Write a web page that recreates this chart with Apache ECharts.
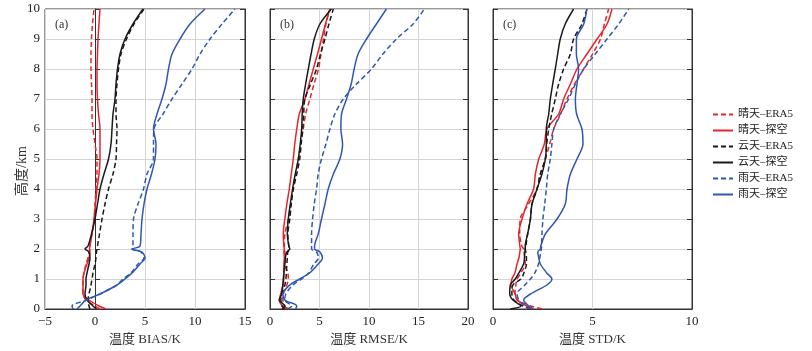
<!DOCTYPE html>
<html>
	<head>
		<meta charset="utf-8">
		<title>温度廓线误差</title>
		<script src="https://cdn.jsdelivr.net/npm/echarts@6/dist/echarts.min.js"></script>
	</head>
	<body style="margin:0">
		<div id="box" style="width: 812px;height: 351px;"></div>
		<script>
			// 高度 km
			var heights = [0, 0.1, 0.3, 0.5, 0.8, 1, 1.2, 1.5, 1.7, 1.9, 2, 2.1, 2.5, 3, 3.5, 4, 4.5, 5, 5.5, 6, 6.5, 7, 7.5, 8, 8.5, 9, 9.5, 10]
			var names = ['晴天–ERA5', '晴天–探空', '云天–ERA5', '云天–探空', '雨天–ERA5', '雨天–探空']
			var colors = ['#e3262b', '#e3262b', '#1a1a1a', '#1a1a1a', '#2f57b3', '#2f57b3']
			var xNames = ['温度 BIAS/K', '温度 RMSE/K', '温度 STD/K']
			var panelLabels = ['(a)', '(b)', '(c)']
			var xMin = [-5, 0, 0]
			var xMax = [15, 20, 10]

			// (a) BIAS
			var biasClearEra = [0.5, 0.0, -0.9, -1.2, -1.2, -1.2, -1.1, -0.9, -0.7, -0.6, -0.5, -0.5, -0.3, -0.1, 0.0, 0.1, 0.2, 0.2, 0.0, -0.2, -0.3, -0.3, -0.35, -0.4, -0.4, -0.35, -0.25, -0.1]
			var biasClearObs = [1.1, 0.4, -0.6, -1.2, -1.2, -1.2, -1.1, -0.8, -0.6, -0.5, -0.55, -0.5, -0.3, -0.1, 0.05, 0.2, 0.4, 0.5, 0.5, 0.5, 0.35, 0.25, 0.2, 0.2, 0.25, 0.3, 0.4, 0.5]
			var biasCloudEra = [-0.5, -0.6, -0.7, -0.6, -0.4, -0.3, -0.2, 0.0, 0.1, 0.15, 0.2, 0.25, 0.45, 0.7, 1.0, 1.35, 1.8, 2.1, 2.15, 2.2, 2.1, 2.1, 2.2, 2.35, 2.6, 3.15, 3.9, 4.9]
			var biasCloudObs = [0.15, -0.2, -0.8, -1.0, -0.9, -0.9, -0.8, -0.6, -0.5, -0.6, -1.0, -0.7, -0.35, 0.0, 0.25, 0.5, 0.9, 1.35, 1.6, 1.7, 1.8, 2.0, 2.1, 2.25, 2.5, 3.0, 3.8, 4.8]
			var biasRainEra = [-2.2, -2.3, -0.8, 0.5, 2.2, 2.8, 3.6, 4.3, 4.9, 4.6, 3.7, 3.8, 3.8, 3.85, 4.3, 4.85, 5.2, 5.85, 5.85, 5.9, 6.8, 7.7, 8.7, 9.7, 10.5, 11.5, 12.7, 14.0]
			var biasRainObs = [-1.8, -1.5, -0.9, 0.5, 2.2, 3.0, 3.7, 4.5, 5.0, 4.7, 3.7, 4.5, 4.6, 4.7, 4.9, 5.2, 5.65, 6.0, 6.1, 5.85, 6.2, 6.7, 7.1, 7.35, 7.7, 8.5, 9.5, 11.0]

			// (b) RMSE
			var rmseClearEra = [1.7, 1.5, 1.3, 1.35, 1.7, 1.85, 1.8, 1.5, 1.55, 1.5, 1.45, 1.45, 1.5, 1.85, 2.1, 2.35, 2.6, 2.86, 3.1, 3.36, 3.6, 4.03, 4.45, 4.9, 5.15, 5.4, 5.65, 6.05]
			var rmseClearObs = [2.0, 1.3, 0.94, 1.08, 1.3, 1.4, 1.4, 1.4, 1.45, 1.4, 1.45, 1.4, 1.34, 1.5, 1.7, 1.95, 2.15, 2.35, 2.5, 2.7, 2.96, 3.53, 3.95, 4.37, 4.8, 5.2, 5.6, 6.05]
			var rmseCloudEra = [1.5, 1.2, 1.1, 1.2, 1.5, 1.6, 1.65, 1.7, 1.75, 1.8, 1.95, 1.9, 1.8, 2.0, 2.15, 2.35, 2.7, 3.0, 3.15, 3.3, 3.4, 3.53, 4.1, 4.7, 5.1, 5.55, 5.95, 6.4]
			var rmseCloudObs = [1.2, 1.5, 0.94, 1.18, 1.3, 1.34, 1.4, 1.5, 1.55, 1.7, 2.0, 1.9, 1.75, 1.85, 2.05, 2.28, 2.55, 2.86, 3.05, 3.2, 3.25, 3.36, 3.6, 3.87, 4.15, 4.47, 5.04, 6.2]
			var rmseRainEra = [1.8, 2.2, 1.5, 1.6, 2.3, 3.2, 3.9, 4.44, 4.9, 4.7, 4.2, 4.2, 4.2, 4.3, 4.47, 4.7, 4.87, 5.2, 5.65, 6.05, 6.55, 7.4, 8.74, 10.25, 11.4, 12.77, 14.45, 15.6]
			var rmseRainObs = [2.6, 2.7, 1.5, 1.3, 2.0, 3.0, 4.0, 4.87, 5.3, 5.04, 4.5, 4.5, 4.87, 5.2, 5.55, 5.88, 6.4, 7.06, 7.33, 7.16, 7.23, 7.73, 8.2, 8.5, 8.9, 9.75, 10.75, 11.76]

			// (c) STD
			var stdClearEra = [2.46, 1.9, 1.25, 1.1, 1.15, 1.21, 1.4, 1.62, 1.6, 1.55, 1.54, 1.45, 1.34, 1.37, 1.79, 2.21, 2.38, 2.63, 2.85, 3.05, 3.4, 3.72, 4.1, 4.55, 5.0, 5.4, 5.6, 5.81]
			var stdClearObs = [2.04, 1.7, 1.2, 1.12, 0.9, 0.95, 1.1, 1.21, 1.3, 1.35, 1.37, 1.35, 1.29, 1.46, 1.71, 2.04, 2.13, 2.3, 2.58, 2.71, 3.3, 3.55, 3.89, 4.22, 4.72, 5.23, 5.73, 5.98]
			var stdCloudEra = [1.9, 1.5, 1.05, 0.95, 1.0, 1.4, 1.55, 1.68, 1.68, 1.65, 1.62, 1.65, 1.74, 1.88, 1.96, 2.21, 2.38, 2.63, 2.7, 2.8, 2.95, 3.13, 3.3, 3.55, 3.89, 4.05, 4.47, 4.72]
			var stdCloudObs = [0.87, 1.4, 1.0, 0.84, 0.87, 1.12, 1.3, 1.54, 1.58, 1.6, 1.62, 1.62, 1.74, 1.88, 1.96, 2.21, 2.46, 2.63, 2.68, 2.68, 2.8, 2.88, 3.0, 3.13, 3.25, 3.38, 3.63, 4.05]
			var stdRainEra = [1.9, 1.6, 1.3, 1.21, 1.6, 1.88, 2.1, 2.29, 2.35, 2.4, 2.43, 2.44, 2.46, 2.51, 2.6, 2.68, 2.75, 2.88, 2.96, 3.05, 3.38, 3.8, 4.14, 4.56, 5.14, 5.73, 6.32, 6.82]
			var stdRainObs = [2.0, 1.8, 1.54, 1.88, 2.71, 2.96, 2.7, 2.38, 2.3, 2.25, 2.38, 2.4, 2.63, 3.22, 3.63, 3.72, 3.89, 4.22, 4.52, 4.47, 4.2, 4.14, 4.22, 4.3, 4.19, 4.19, 4.56, 4.72]

			var panels = [
				[biasClearEra, biasClearObs, biasCloudEra, biasCloudObs, biasRainEra, biasRainObs],
				[rmseClearEra, rmseClearObs, rmseCloudEra, rmseCloudObs, rmseRainEra, rmseRainObs],
				[stdClearEra, stdClearObs, stdCloudEra, stdCloudObs, stdRainEra, stdRainObs]
			]

			var font = '"Liberation Serif", "Noto Sans CJK SC", serif'
			var gridLefts = [45, 270, 493]
			var gridWidths = [200, 198, 199]

			var grid = [], xAxis = [], yAxis = [], series = [], title = []
			for (var p = 0; p < 3; p++) {
				grid.push({
					left: gridLefts[p], width: gridWidths[p], top: 9, height: 303,
					show: true, borderColor: '#333', borderWidth: 1
				})
				xAxis.push({
					type: 'value', gridIndex: p, min: xMin[p], max: xMax[p], interval: 5,
					name: xNames[p], nameLocation: 'middle', nameGap: 24,
					nameTextStyle: { fontFamily: font, fontSize: 13, color: '#333' },
					axisLine: { show: true, onZero: false, lineStyle: { color: '#333' } },
					axisTick: { show: false },
					axisLabel: {
						margin: 6, fontFamily: font, fontSize: 13, color: '#222',
						formatter: function (v) { return String(v).replace('-', '−') }
					},
					splitLine: { show: true, lineStyle: { color: '#d4d4d4' } }
				})
				yAxis.push({
					type: 'value', gridIndex: p, min: 0, max: 10, interval: 1,
					name: p === 0 ? '高度/km' : '', nameLocation: 'middle', nameGap: 16,
					nameMoveOverlap: false,
					nameTextStyle: { fontFamily: font, fontSize: 14, color: '#333', padding: [0, 24, 0, 0] },
					axisLine: { show: true, lineStyle: { color: '#333' } },
					axisTick: { show: true, inside: true, length: 5, lineStyle: { color: '#333' } },
					axisLabel: { show: p === 0, margin: 5, fontFamily: font, fontSize: 13, color: '#222' },
					splitLine: { show: true, lineStyle: { color: '#d4d4d4' } }
				})
				// 右侧刻度
				yAxis.push({
					type: 'value', gridIndex: p, min: 0, max: 10, interval: 1, position: 'right',
					axisLine: { show: true, lineStyle: { color: '#333' } },
					axisTick: { show: true, inside: true, length: 5, lineStyle: { color: '#333' } },
					axisLabel: { show: false },
					splitLine: { show: false }
				})
				title.push({
					text: panelLabels[p], left: gridLefts[p] + 5, top: 14,
					textStyle: { fontFamily: font, fontSize: 12, fontWeight: 'normal', color: '#333' }
				})
				for (var s = 0; s < 6; s++) {
					var vals = panels[p][s]
					var data = []
					for (var i = 0; i < heights.length; i++) {
						data.push([vals[i], heights[i]])
					}
					series.push({
						name: names[s], type: 'line', xAxisIndex: p, yAxisIndex: p * 2,
						data: data, symbol: 'none', smooth: 0.3, animation: false,
						lineStyle: { color: colors[s], width: 1.5, type: s % 2 === 0 ? [5, 3] : 'solid' },
						itemStyle: { color: colors[s] }
					})
				}
			}

			var mCharts = echarts.init(document.querySelector('#box'))
			var option = {
				backgroundColor: '#fff',
				title: title,
				legend: {
					orient: 'vertical', left: 707, top: 104,
					data: names, itemWidth: 20, itemHeight: 10, itemGap: 5,
					itemStyle: { opacity: 0 },
					textStyle: { fontFamily: font, fontSize: 11, color: '#222' }
				},
				grid: grid,
				xAxis: xAxis,
				yAxis: yAxis,
				series: series
			}
			mCharts.setOption(option)
		</script>
	</body>
</html>
